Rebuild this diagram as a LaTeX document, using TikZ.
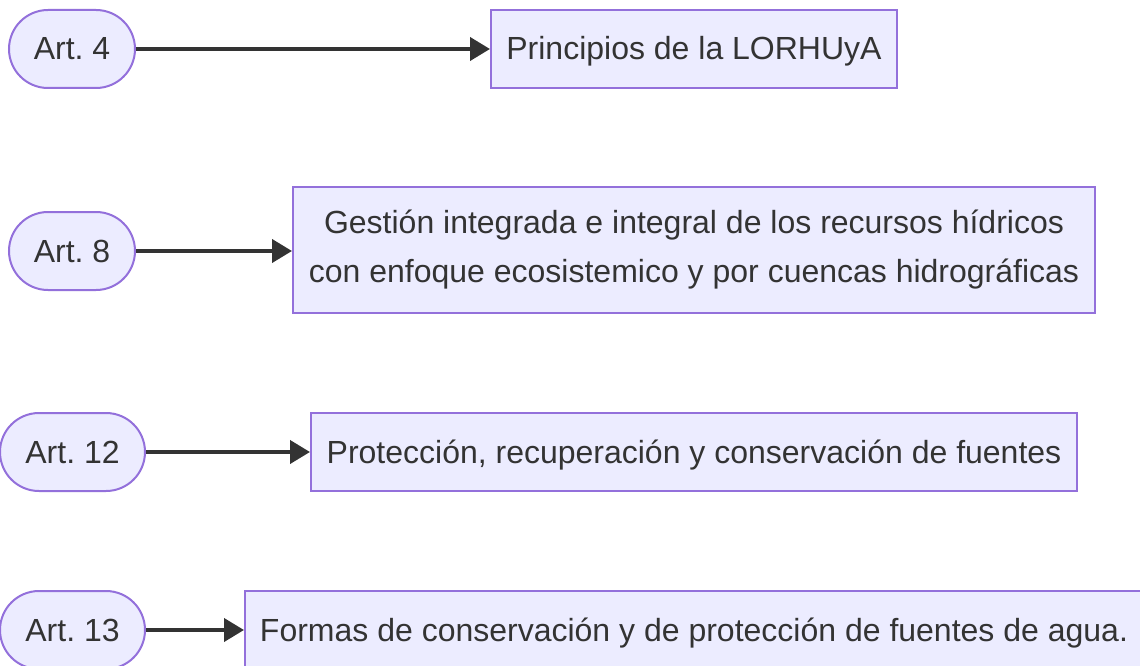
\documentclass[tikz,border=0pt]{standalone}
\usepackage{fontspec}
\setmainfont{Liberation Sans}
\usepackage{tikz}
\usetikzlibrary{%
  arrows.meta%
}
\definecolor{borde}{HTML}{9370DB}
\definecolor{relleno}{HTML}{ECECFF}
\definecolor{tinta}{HTML}{333333}
\frenchspacing

\begin{document}
\begin{tikzpicture}[x=1pt,y=-1pt,
    art/.style={draw=borde,fill=relleno,line width=2pt,rounded corners=39pt,
      minimum height=78pt,inner sep=0pt,text=tinta,text height=30pt,text depth=8pt,
      font=\fontsize{32}{49}\selectfont},
    tema/.style={draw=borde,fill=relleno,line width=2pt,
      inner sep=0pt,text=tinta,align=center,font=\fontsize{32}{49}\selectfont},
    linea/.style={text height=30pt,text depth=8pt},
    flecha/.style={draw=tinta,line width=4pt,-{Triangle[length=20pt,width=23pt]}}]
      \useasboundingbox (0,0) rectangle (1140,666);
      % articulos
      \node [art,minimum width=126pt] (a4) at (72,49) {Art. 4};
      \node [art,minimum width=126pt] (a8) at (72,251) {Art. 8};
      \node [art,minimum width=145pt] (a12) at (72.5,452) {Art. 12};
      \node [art,minimum width=145pt] (a13) at (72.5,630) {Art. 13};
      % temas
      \node [tema,linea,minimum width=406pt,minimum height=78pt] (p4) at (694,49)
        {Principios de la LORHUyA};
      \node [tema,minimum width=802pt,minimum height=126pt] (p8) at (694,250)
        {Gestión integrada e integral de los recursos hídricos\\
         con enfoque ecosistemico y por cuencas hidrográficas};
      \node [tema,linea,minimum width=766pt,minimum height=78pt] (p12) at (694,452)
        {Protección, recuperación y conservación de fuentes};
      \node [tema,linea,minimum width=898pt,minimum height=78pt] (p13) at (694,630)
        {Formas de conservación y de protección de fuentes de agua.};
      %\draw (a4) -- (p4);
      \draw [flecha] (a4) -- (p4);
      \draw [flecha] (a8) -- (a8 -| p8.west);
      \draw [flecha] (a12) -- (p12);
      \draw [flecha] (a13) -- (p13);
    \end{tikzpicture}
\end{document}
